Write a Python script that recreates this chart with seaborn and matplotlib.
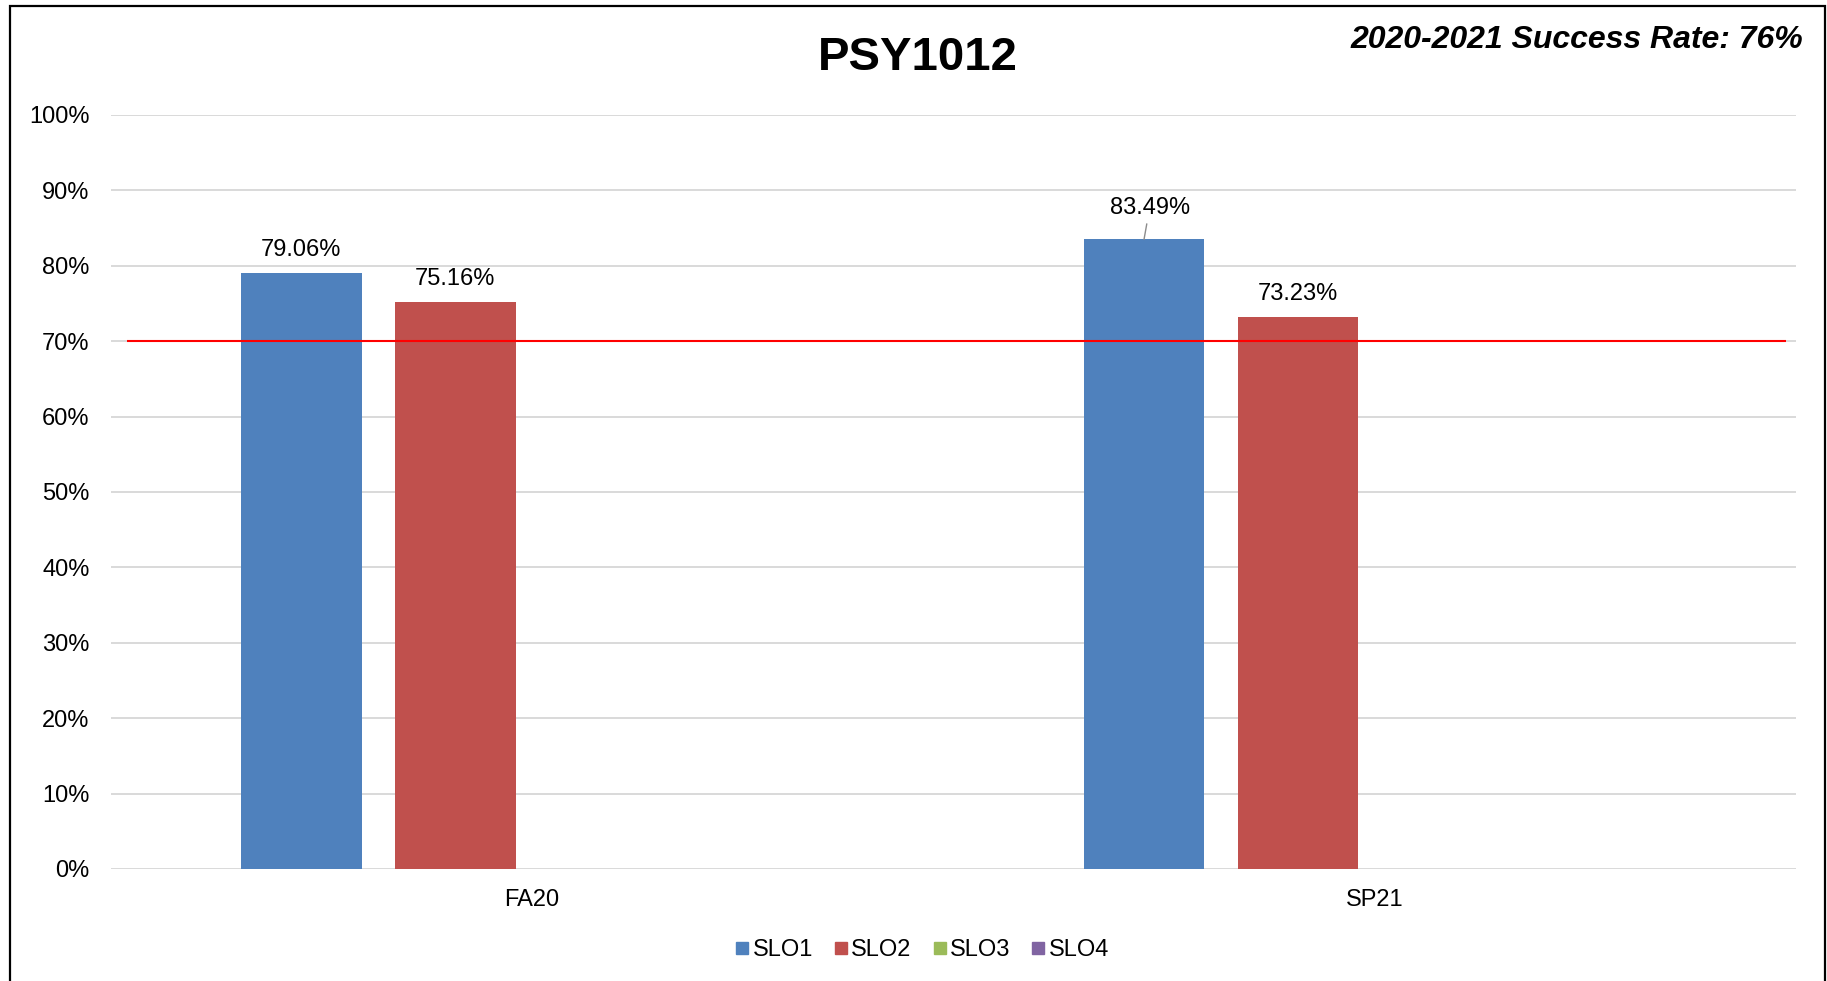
import pandas as pd
import matplotlib.pyplot as plt
from matplotlib.lines import Line2D
from matplotlib.patches import Rectangle
import seaborn as sns

# chart data
terms = ["FA20", "SP21"]
slo_names = ["SLO1", "SLO2", "SLO3", "SLO4"]
slo1 = [79.06, 83.49]
slo2 = [75.16, 73.23]
target = 70
colors = ["#4F81BD", "#C0504D", "#9BBB59", "#8064A2"]
title = "PSY1012"
note = "2020-2021 Success Rate: 76%"

# long format for seaborn (SLO3 / SLO4 have no values)
df = pd.DataFrame({
    "term": terms * 2,
    "slo": ["SLO1"] * len(terms) + ["SLO2"] * len(terms),
    "value": slo1 + slo2,
})

sns.set_style("white")
plt.rcParams["font.family"] = ["Liberation Sans", "DejaVu Sans"]
plt.rcParams["text.color"] = "black"

fig = plt.figure(figsize=(18.27, 9.81), dpi=100)
ax = fig.add_axes([0.0605, 0.1142, 0.9228, 0.7686])

sns.barplot(data=df, x="term", y="value", hue="slo", hue_order=slo_names, order=terms,
            palette=dict(zip(slo_names, colors)), width=0.7307, gap=0.2145,
            saturation=1, linewidth=0, errorbar=None, legend=False, ax=ax)

ax.set_xlim(-0.5, 1.5)
ax.set_ylim(0, 100)
ax.set_yticks(range(0, 101, 10))
ax.set_yticklabels([f"{t}%" for t in range(0, 101, 10)])
ax.grid(axis="y", color="#D9D9D9", lw=1.4)
ax.grid(axis="x", visible=False)
ax.set_axisbelow(True)
sns.despine(ax=ax, left=True, bottom=True)
ax.tick_params(axis="both", length=0, labelsize=17, colors="black")
ax.tick_params(axis="y", pad=15)
ax.tick_params(axis="x", pad=14.5)
ax.set_xlabel("")
ax.set_ylabel("")

# target line
ax.hlines(target, -0.481, 1.488, color="#FF0000", lw=1.5, zorder=3)

# data labels
present = [s for s in slo_names if s in df["slo"].values]
for slo, cont in zip(present, ax.containers):
    for term, bar in zip(terms, cont):
        h = bar.get_height()
        x = bar.get_x() + bar.get_width() / 2
        if (term, slo) == ("SP21", "SLO1"):
            ax.annotate(f"{h:.2f}%", xy=(x, h), xytext=(4, 22.5), textcoords="offset points",
                        ha="center", va="center", fontsize=17, color="black",
                        arrowprops=dict(arrowstyle="-", color="#8C8C8C", lw=1,
                                        shrinkA=1, shrinkB=0))
        else:
            ax.annotate(f"{h:.2f}%", xy=(x, h), xytext=(0, 16.5), textcoords="offset points",
                        ha="center", va="center", fontsize=17, color="black")

fig.text(0.5025, 0.9405, title, ha="center", va="center", fontsize=34, fontweight="bold",
         color="black")
fig.text(0.987, 0.9596, note, ha="right", va="center", fontsize=23,
         fontweight="bold", fontstyle="italic", color="black")

handles = [Line2D([], [], marker="s", ls="none", color=c, markersize=8.6) for c in colors]
fig.legend(handles, slo_names, loc="center", bbox_to_anchor=(0.505, 0.0316), ncol=4,
           frameon=False, fontsize=17, handlelength=0.5, handletextpad=0.2,
           columnspacing=0.93)

# outer frame
fig.add_artist(Rectangle((10 / 1827, -0.05), 1815 / 1827, 1 - 6 / 981 + 0.05,
                         transform=fig.transFigure, fill=False, edgecolor="black", lw=1.6))

fig.savefig("out.png", dpi=100)
